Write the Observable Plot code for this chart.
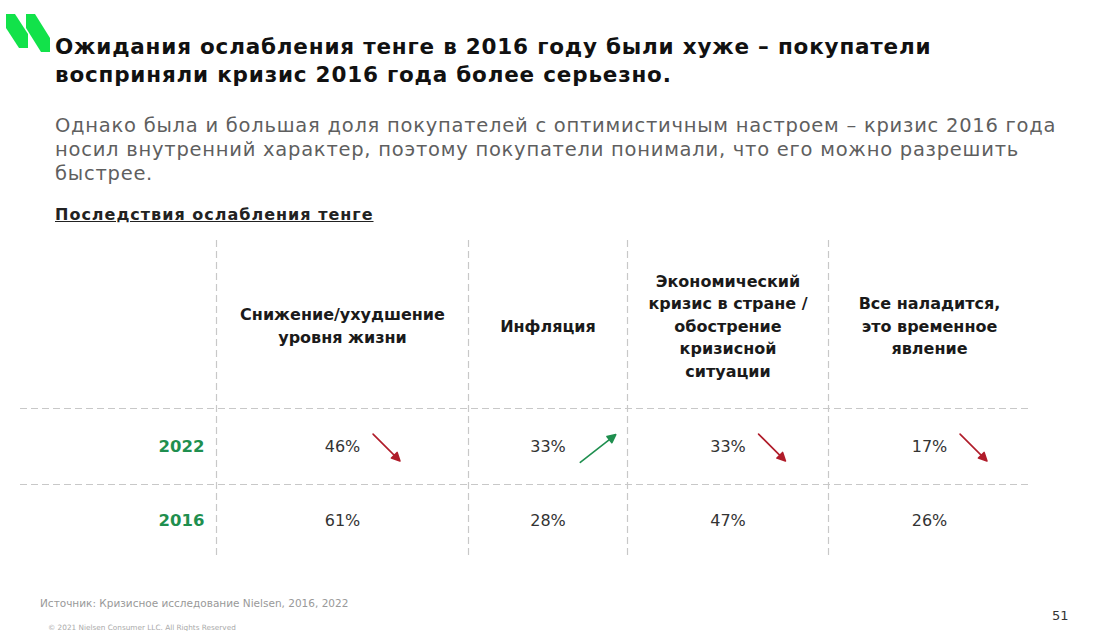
<!DOCTYPE html>
<html>
<head>
<meta charset="utf-8">
<script src="https://cdn.jsdelivr.net/npm/d3@7"></script>
<script src="https://cdn.jsdelivr.net/npm/@observablehq/plot@0.6"></script>
<style>
  html, body { margin: 0; padding: 0; background: #fff; }
  #page { position: relative; width: 1094px; height: 631px; overflow: hidden; font-family: "DejaVu Sans", sans-serif; }
  .abs { position: absolute; white-space: nowrap; }
  #title { left: 55px; top: 33px; font-size: 21.5px; letter-spacing: 0.8px; font-weight: bold; line-height: 28px; color: #111; }
  #subtitle { left: 55px; top: 114px; font-size: 19.5px; letter-spacing: 0.75px; line-height: 24px; color: #5f5f5f; }
  #section { left: 55px; top: 205px; font-size: 16px; letter-spacing: 1px; font-weight: bold; color: #222; text-decoration: underline; }
  #chart { left: 0; top: 230px; }
  #source { left: 40px; top: 597px; font-size: 10.5px; color: #999; }
  #copy { left: 48px; top: 623px; font-size: 7.3px; color: #aaa; }
  #pagenum { left: 1052px; top: 608px; font-size: 13px; color: #333; }
</style>
</head>
<body>
<div id="page">
  <svg class="abs" style="left:0;top:0" width="60" height="60" viewBox="0 0 60 60">
    <polygon points="6,14 15,14 28,34 28,48 19,48 6,28" fill="#12e24a"/>
    <polygon points="26,14 35,14 50,38 50,52 41,52 26,28" fill="#12e24a"/>
  </svg>
  <div id="title" class="abs">Ожидания ослабления тенге в 2016 году были хуже – покупатели<br>восприняли кризис 2016 года более серьезно.</div>
  <div id="subtitle" class="abs">Однако была и большая доля покупателей с оптимистичным настроем – кризис 2016 года<br>носил внутренний характер, поэтому покупатели понимали, что его можно разрешить<br>быстрее.</div>
  <div id="section" class="abs">Последствия ослабления тенге</div>
  <div id="chart" class="abs"></div>
  <div id="source" class="abs">Источник: Кризисное исследование Nielsen, 2016, 2022</div>
  <div id="copy" class="abs">© 2021 Nielsen Consumer LLC. All Rights Reserved</div>
  <div id="pagenum" class="abs">51</div>
</div>
<script>
// ---- data ----
const categories = [
  "Снижение/ухудшение\nуровня жизни",
  "Инфляция",
  "Экономический\nкризис в стране /\nобострение\nкризисной\nситуации",
  "Все наладится,\nэто временное\nявление"
];
const years = ["2022", "2016"];
const values2022 = [46, 33, 33, 17];
const values2016 = [61, 28, 47, 26];
const trend2022 = ["down", "up", "down", "down"];

// ---- derived tables ----
const headers = categories.map((c, i) => ({col: i + 0.5, row: 0.5, label: c}));
const yearRows = years.map((y, j) => ({row: j + 1.5, label: y}));
const cells = [
  ...values2022.map((v, i) => ({col: i + 0.5, row: 1.5, label: v + "%"})),
  ...values2016.map((v, i) => ({col: i + 0.5, row: 2.5, label: v + "%"}))
];
const arrows = trend2022.map((t, i) => ({col: i + 0.5, row: 1.5, trend: t}));
const colBounds = d3.range(categories.length);          // vertical separators
const rowBounds = d3.range(1, years.length + 1);         // horizontal separators

const arrowShape = {
  draw(context, l) {
    context.moveTo(0, 0);
    context.lineTo(0, -l + 4);
    context.moveTo(-4, -l + 8);
    context.lineTo(0, -l);
    context.lineTo(4, -l + 8);
    context.closePath();
  }
};

const chart = Plot.plot({
  width: 1094,
  height: 340,
  margin: 0,
  x: {type: "linear", domain: [-1, 0, 1, 2, 3, 4], range: [20, 216, 468, 627, 828, 1030], axis: null},
  y: {type: "linear", domain: [0, 1, 2, 3], range: [10, 178, 254, 326], axis: null},
  style: {fontFamily: "DejaVu Sans, sans-serif", background: "transparent"},
  marks: [
    Plot.ruleY(rowBounds, {y: d => d, x1: -1, x2: 4, stroke: "#c8c8c8", strokeWidth: 1.2, strokeDasharray: "7,4"}),
    Plot.ruleX(colBounds, {x: d => d, y1: 0, y2: 3, stroke: "#c8c8c8", strokeWidth: 1.2, strokeDasharray: "7,4"}),
    Plot.text(headers, {x: "col", y: "row", text: "label", fontSize: 16, fontWeight: "bold", fill: "#1a1a1a", lineHeight: 1.41, textAnchor: "middle", letterSpacing: 1.2}),
    Plot.text(yearRows, {x: 0, y: "row", text: "label", dx: -12, textAnchor: "end", fontSize: 16.5, fontWeight: "bold", fill: "#1f8f4f"}),
    Plot.text(cells, {x: "col", y: "row", text: "label", fontSize: 16, fill: "#333", letterSpacing: 0.8}),
    Plot.vector(arrows.filter(d => d.trend === "down"), {x: "col", y: "row", dx: 44, dy: 1, length: 38, rotate: 135, anchor: "middle", shape: arrowShape, stroke: "#b01c2a", fill: "#b01c2a", strokeWidth: 1.6}),
    Plot.vector(arrows.filter(d => d.trend === "up"), {x: "col", y: "row", dx: 50, dy: 2, length: 45, rotate: 52, anchor: "middle", shape: arrowShape, stroke: "#1f8f4f", fill: "#1f8f4f", strokeWidth: 1.6})
  ]
});
document.getElementById("chart").appendChild(chart);
</script>
</body>
</html>
